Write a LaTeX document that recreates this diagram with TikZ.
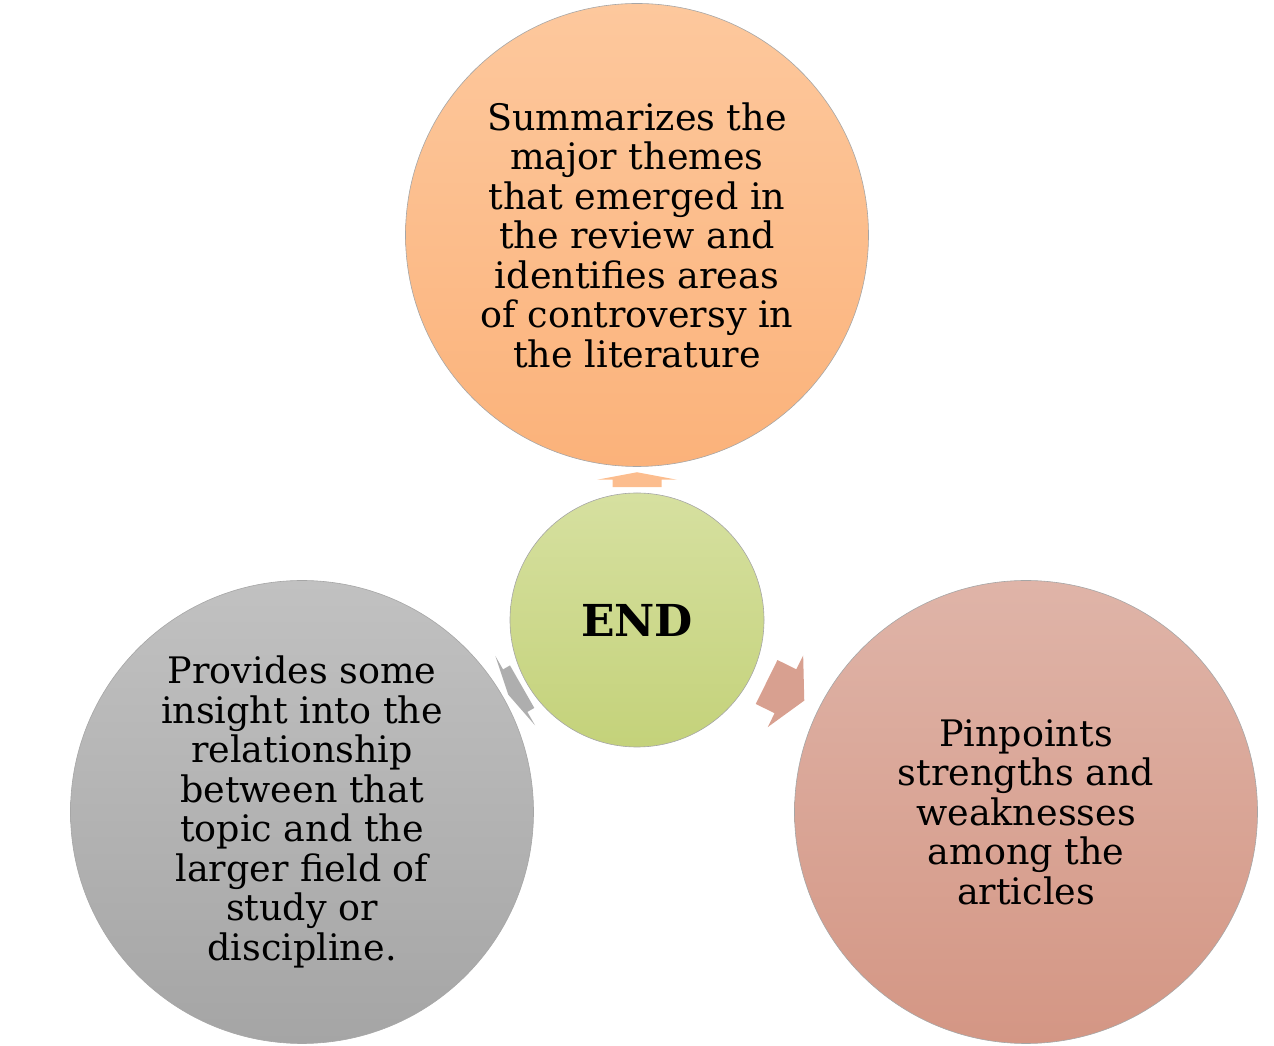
\documentclass[tikz,border=0pt]{standalone}
\usepackage{fontspec}
\setmainfont{DejaVu Serif}
\usetikzlibrary{calc}

% colours of the four circles
\definecolor{peachTop}{RGB}{253,200,157}
\definecolor{peachBot}{RGB}{251,178,122}
\definecolor{greenTop}{RGB}{214,224,160}
\definecolor{greenBot}{RGB}{196,210,122}
\definecolor{greyTop}{RGB}{193,193,193}
\definecolor{greyBot}{RGB}{165,165,165}
\definecolor{roseTop}{RGB}{223,180,168}
\definecolor{roseBot}{RGB}{212,150,132}

\tikzset{
  bubble/.style={circle, draw=gray!70, line width=0.6pt, align=center,
    font=\fontsize{36.5}{39.5}\selectfont, inner sep=0pt},
}

% block arrow in the gap: #1 centre, #2 angle, #3 length, #4 colour
\newcommand{\gaparrow}[4]{%
  \fill[#4, shift={#1}, rotate=#2]
    (#3/2,0) -- (0,40) -- (0,24.5) -- (-#3/2,24.5)
    -- (-#3/2,-24.5) -- (0,-24.5) -- (0,-40) -- cycle;}

\begin{document}
\begin{tikzpicture}[x=1pt, y=1pt]
    \useasboundingbox (0,0) rectangle (1274,1046);

    % centre
    \node[bubble, minimum size=254pt, top color=greenTop, bottom color=greenBot,
      font=\fontsize{44}{48}\selectfont\bfseries] (mid) at (637,426) {END};

    % outer circles
    \node[bubble, minimum size=463pt, top color=peachTop, bottom color=peachBot]
      (top) at (637,811) {Summarizes the\\major themes\\that emerged in\\the review and\\identifies areas\\of controversy in\\the literature};
    \node[bubble, minimum size=463pt, top color=greyTop, bottom color=greyBot]
      (left) at (302,234) {Provides some\\insight into the\\relationship\\between that\\topic and the\\larger field of\\study or\\discipline.};
    \node[bubble, minimum size=463pt, top color=roseTop, bottom color=roseBot]
      (right) at (1026,234) {Pinpoints\\strengths and\\weaknesses\\among the\\articles};

    % arrows
    \gaparrow{($(mid.90)!0.5!(top.-90)$)}{90}{15}{peachBot!85!white}
    \gaparrow{($(mid.209.8)!0.5!(left.29.8)$)}{209.8}{16}{greyBot!90!white}
    \gaparrow{($(mid.-26.3)!0.5!(right.153.7)$)}{-26.3}{42}{roseBot!90!white}
\end{tikzpicture}
\end{document}
